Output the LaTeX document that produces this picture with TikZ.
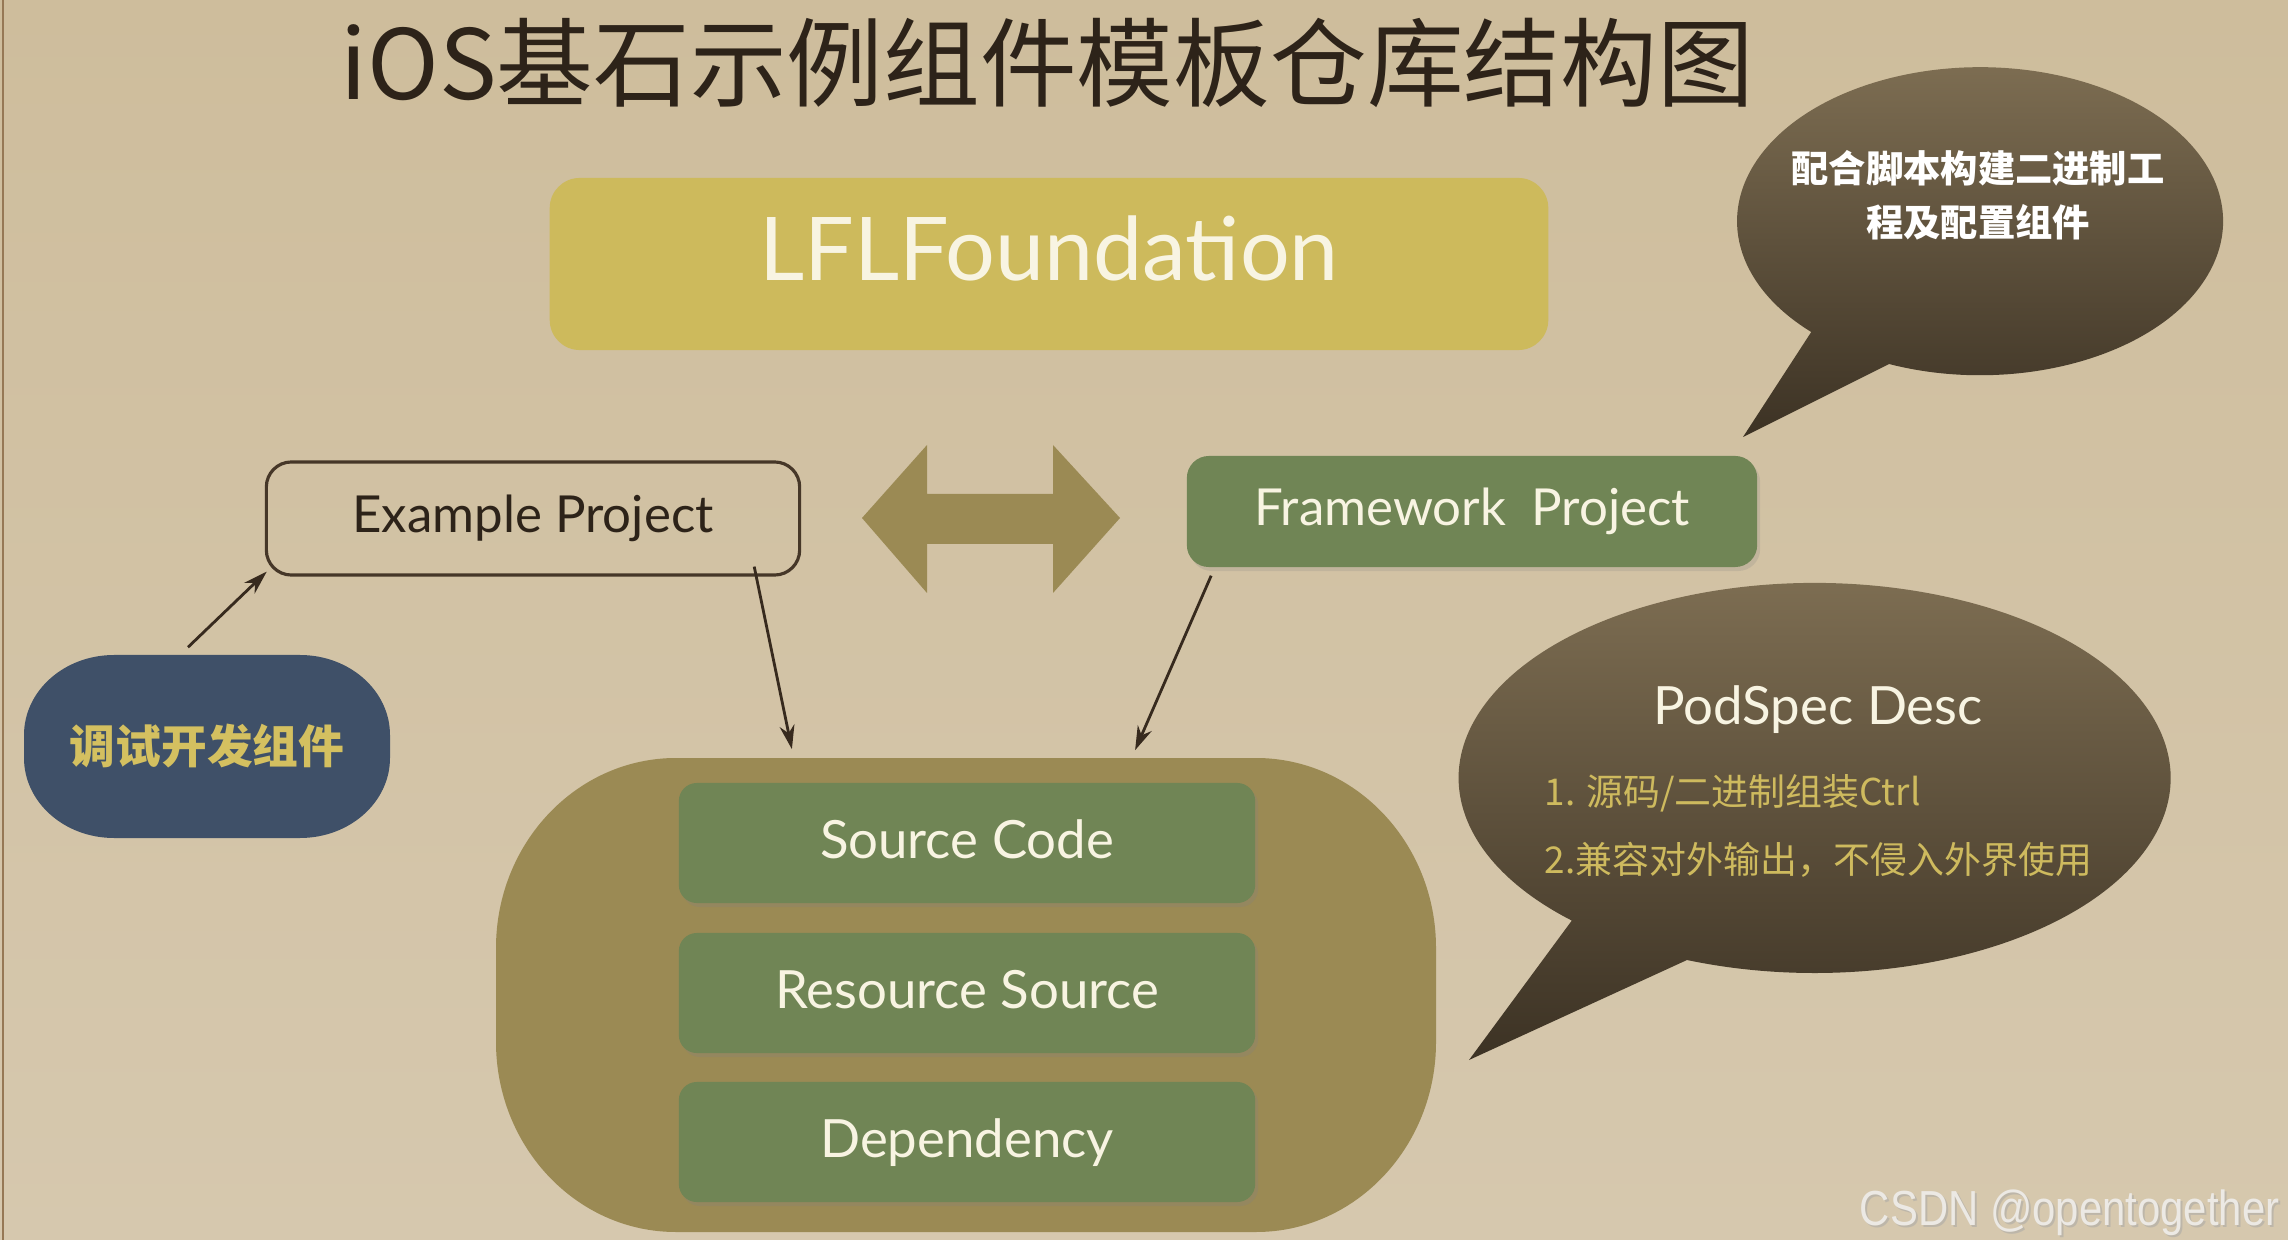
\documentclass[tikz,border=0pt]{standalone}
\usepackage{fontspec}
\usepackage{graphicx}
\newfontfamily\cjk{Noto Sans CJK SC}
\newfontfamily\lat{Lato}
\newfontfamily\wmfont{Liberation Sans}
\usetikzlibrary{shadows,arrows.meta}
\definecolor{bgtop}{RGB}{206,189,156}
\definecolor{bgmid}{RGB}{220,208,184}
\definecolor{bgbot}{RGB}{214,200,174}
\definecolor{titlec}{RGB}{45,35,25}
\definecolor{lflc}{RGB}{205,186,92}
\definecolor{boxgreen}{RGB}{112,133,85}
\definecolor{olivec}{RGB}{155,138,84}
\definecolor{bluep}{RGB}{63,80,104}
\definecolor{goldtext}{RGB}{212,192,96}
\definecolor{creamtext}{RGB}{248,244,226}
\definecolor{exborder}{RGB}{70,55,40}
\definecolor{arrowc}{RGB}{55,42,30}
\definecolor{bubtop}{RGB}{128,112,84}
\definecolor{bubbot}{RGB}{60,50,36}
\definecolor{listgold}{RGB}{206,186,94}
\definecolor{wmc}{RGB}{236,233,228}
\begin{document}
\begin{tikzpicture}[x=0.01cm,y=-0.01cm,
  arr/.style={draw=arrowc, line width=0.8pt, -{Stealth[length=0.24cm,width=0.15cm]}},
  greenbox/.style={fill=boxgreen, rounded corners=0.18cm, minimum width=5.76cm, minimum height=1.2cm, inner sep=0pt,
    drop shadow={opacity=0.25, shadow xshift=0.03cm, shadow yshift=-0.04cm},
    font=\lat\fontsize{15}{18}\selectfont, text=creamtext, text height=0.45cm, text depth=0.15cm},
  cjklab/.style={font=\cjk\bfseries\fontsize{10.6}{15.4}\selectfont},
  listlab/.style={anchor=west, inner sep=0pt, font=\cjk\fontsize{10.5}{14}\selectfont, text=listgold}
]
\useasboundingbox (0,0) rectangle (2288,1240);
% background
\shade[top color=bgtop, middle color=bgmid, bottom color=bgbot] (0,0) rectangle (2288,1240);
\draw[line width=0.8pt, color={rgb,255:red,150;green,120;blue,85}] (3,0) -- (3,1240);

% title
\node[anchor=base west, inner sep=0pt, font=\cjk\fontsize{27.5}{30}\selectfont, text=titlec] (title) at (340,100) {iOS基石示例组件模板仓库结构图};

% LFLFoundation
\node[fill=lflc, rounded corners=0.3cm, minimum width=9.98cm, minimum height=1.72cm, inner sep=0pt,
  text depth=0.32cm, font=\lat\fontsize{25}{30}\selectfont, text=creamtext] (lfl) at (1049,264) {LFLFoundation};

% bubble 1
\shade[top color=bubtop, bottom color=bubbot] (1889,364) arc[start angle=112, end angle=-226, x radius=243, y radius=154] -- (1743,437) -- cycle;
\node[cjklab, text=white, align=center] (b1txt) at (1978,195) {配合脚本构建二进制工\\程及配置组件};

% Example Project
\node[draw=exborder, line width=0.9pt, rounded corners=0.25cm, minimum width=5.33cm, minimum height=1.13cm, inner sep=0pt,
  font=\lat\fontsize{14.5}{18}\selectfont, text=titlec] (ex) at (533,518.5) {Example Project};

% double arrow
\fill[olivec] (862,518) -- (927,445) -- (927,494) -- (1053,494) -- (1053,445) -- (1120,518) -- (1053,593) -- (1053,544) -- (927,544) -- (927,593) -- cycle;

% Framework Project
\node[fill=boxgreen, rounded corners=0.22cm, minimum width=5.7cm, minimum height=1.11cm, inner sep=0pt,
  drop shadow={opacity=0.2, shadow xshift=0.03cm, shadow yshift=-0.04cm},
  font=\lat\fontsize{14.5}{18}\selectfont, text=creamtext] (fw) at (1472,511.5) {Framework\hspace{0.5em}Project};

% debug pill
\fill[bluep] (114,655) -- (300,655) arc[start angle=-90, end angle=0, x radius=90, y radius=80] -- (390,758) arc[start angle=0, end angle=90, x radius=90, y radius=80] -- (114,838) arc[start angle=90, end angle=180, x radius=90, y radius=80] -- (24,735) arc[start angle=180, end angle=270, x radius=90, y radius=80] -- cycle;
\node[minimum width=3.66cm, minimum height=1.83cm, inner sep=0pt, font=\cjk\bfseries\fontsize{13}{15}\selectfont, text=goldtext] (dbg) at (207,746.5) {调试开发组件};

% bubble 2
\shade[top color=bubtop, bottom color=bubbot] (1687,960) arc[start angle=111, end angle=-227, x radius=356, y radius=195] -- (1469,1060) -- cycle;
\node[font=\lat\fontsize{15}{18}\selectfont, text=creamtext] (pst) at (1818,710) {PodSpec Desc};
\node[listlab] (l1) at (1544,793) {1. 源码/二进制组装Ctrl};
\node[listlab] (l2) at (1544,860) {2.兼容对外输出，不侵入外界使用};

% big pod pill
\fill[olivec] (676,758) -- (1256,758) arc[start angle=-90, end angle=0, x radius=180, y radius=190] -- (1436,1042) arc[start angle=0, end angle=90, x radius=180, y radius=190] -- (676,1232) arc[start angle=90, end angle=180, x radius=180, y radius=190] -- (496,948) arc[start angle=180, end angle=270, x radius=180, y radius=190] -- cycle;
\node[minimum width=9.4cm, minimum height=4.74cm, inner sep=0pt] (pod) at (966,995) {};
\node[greenbox] (sc) at (967,843) {Source Code};
\node[greenbox] (rs) at (967,993) {Resource Source};
\node[greenbox] (dep) at (967,1142) {Dependency};

% connectors
\draw[arr] ([xshift=-0.19cm,yshift=0.07cm]dbg.north) -- ([xshift=0.02cm,yshift=0.05cm]ex.south west);
\draw[arr] ([xshift=-0.47cm,yshift=0.10cm]ex.south east) -- ([xshift=-1.74cm,yshift=0.08cm]pod.north);
\draw[arr] ([xshift=0.25cm,yshift=-0.08cm]fw.south west) -- ([xshift=1.69cm,yshift=0.07cm]pod.north);

% watermark
\node[anchor=base east, inner sep=0pt, text=black!35, opacity=0.5, font=\wmfont\fontsize{14}{16}\selectfont] (wmsh) at (2282,1227) {\scalebox{0.85}[1]{CSDN @opentogether}};
\node[anchor=base east, inner sep=0pt, text=wmc, font=\wmfont\fontsize{14}{16}\selectfont] (wm) at (2280,1225) {\scalebox{0.85}[1]{CSDN @opentogether}};
\end{tikzpicture}
\end{document}
